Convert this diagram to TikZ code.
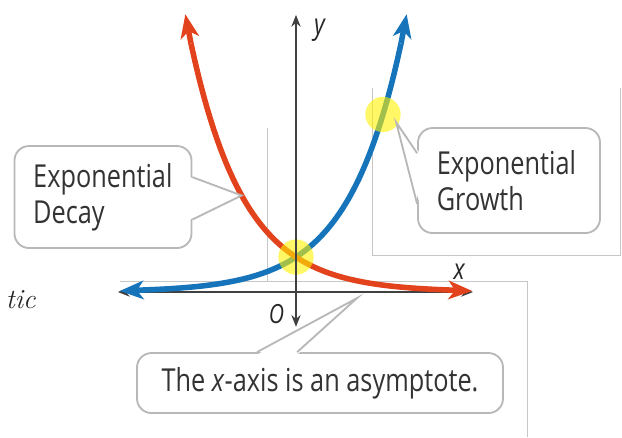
\documentclass[tikz,border=0pt]{standalone}
\usepackage{fontspec}
\usepackage{tikz}
\usetikzlibrary{arrows.meta}
\newfontfamily\callfont[FakeStretch=0.8]{Open Sans}
\definecolor{growthblue}{RGB}{22,116,186}
\definecolor{decayred}{RGB}{226,66,28}

\begin{document}
\begin{tikzpicture}[
        growth/.style={draw=growthblue, line width=4.2pt},
        decay/.style={draw=decayred, line width=4.2pt},
        bigtip/.style={-{Stealth[length=18pt, width=14pt, inset=5pt]}},
        axis/.style={draw=black!75, line width=1.4pt, {Stealth[length=9pt, width=7pt]}-{Stealth[length=9pt, width=7pt]}},
        frameline/.style={draw=black!22, line width=0.7pt},
        spot/.style={circle, fill=yellow, opacity=0.6, minimum size=0.94cm, inner sep=0pt},
        callbox/.style={draw=black!28, line width=1.4pt, fill=white, rounded corners=11pt, inner xsep=0.5cm, text=black!80, font=\callfont\fontsize{24}{27}\selectfont},
        pointer/.style={draw=black!28, line width=1.4pt},
        axislabel/.style={text=black!85, font=\callfont\itshape\fontsize{22}{24}\selectfont}
    ]
    \useasboundingbox (-7.893,-3.867) rectangle (8.693,7.787);

    % Frame lines behind the graph
    \draw[frameline] (2.027,5.44) -- (2.027,0.987) -- (8.64,0.987) -- (8.64,5.44);
    \draw[frameline] (-4.693,0.293) -- (6.16,0.293) -- (6.16,-3.867);
    \draw[frameline] (-0.773,4.373) -- (-0.773,0.293);

    % x-axis
    \coordinate (xl) at (-4.75,0);
    \coordinate (xr) at (4.72,0);
    \draw[axis] (xl) -- (xr);

    % Growth curve
    \draw[growth] plot[domain=-4:2.8, samples=80] (\x, {0.9333*exp(0.7*\x)});
    \coordinate (gend) at (2.8,6.626);
    \coordinate (gtop) at (2.95,7.408);
    \coordinate (gstart) at (-4,0.0568);
    \coordinate (gleft) at (-4.7,0.029);
    \draw[growth, bigtip] (gend) -- (gtop);
    \draw[growth, bigtip] (gstart) -- (gleft);

    % Decay curve
    \draw[decay] plot[domain=-2.8:4, samples=80] (\x, {0.9333*exp(-0.7*\x)});
    \coordinate (dend) at (-2.8,6.626);
    \coordinate (dtop) at (-2.95,7.408);
    \coordinate (dstart) at (4,0.0568);
    \coordinate (dright) at (4.7,0.029);
    \draw[decay, bigtip] (dend) -- (dtop);
    \draw[decay, bigtip] (dstart) -- (dright);

    % Highlights
    \node[spot] (cross) at (0,0.9333) {};
    \node[spot] (mark) at (2.32,4.735) {};

    % y-axis
    \coordinate (yb) at (0,-0.93);
    \coordinate (yt) at (0,7.39);
    \draw[axis] (yb) -- (yt);

    \node[axislabel] (ylab) at (0.627,6.99) {y};
    \node[axislabel] (xlab) at (4.35,0.53) {x};
    \node[axislabel, font=\callfont\itshape\fontsize{20}{24}\selectfont] (olab) at (-0.52,-0.59) {O};

    \node[anchor=base west, text=black!85, font=\itshape\fontsize{21}{25}\selectfont] (tic) at (-7.86,-0.43) {tic};

    % Callouts
    \node[callbox, minimum width=4.72cm, minimum height=2.72cm, text width=3.72cm, align=left] (decaynote) at (-5.147,2.533) {Exponential\\Decay};
    \node[callbox, minimum width=4.853cm, minimum height=2.8cm, text width=3.853cm, align=left] (growthnote) at (5.68,2.973) {Exponential\\Growth};
    \node[callbox, minimum width=9.76cm, minimum height=1.6cm, align=center] (asymnote) at (0.64,-2.427) {The \textit{x}-axis is an asymptote.};

    \coordinate (dtip) at (-1.45,2.574);
    \fill[white] ([xshift=-2pt, yshift=0.53cm]decaynote.east) -- (dtip) -- ([xshift=-2pt, yshift=-0.6cm]decaynote.east) -- cycle;
    \draw[pointer] ([yshift=0.53cm]decaynote.east) -- (dtip) -- ([yshift=-0.6cm]decaynote.east);

    \coordinate (gtip) at (2.67,4.53);
    \fill[white] ([xshift=2pt, yshift=0.73cm]growthnote.west) -- (gtip) -- ([xshift=2pt, yshift=-0.62cm]growthnote.west) -- cycle;
    \draw[pointer] ([yshift=0.73cm]growthnote.west) -- (gtip) -- ([yshift=-0.62cm]growthnote.west);

    \coordinate (atip) at (1.63,-0.16);
    \fill[white] ([xshift=-1.68cm, yshift=-2pt]asymnote.north) -- (atip) -- ([xshift=-0.61cm, yshift=-2pt]asymnote.north) -- cycle;
    \draw[pointer] ([xshift=-1.68cm]asymnote.north) -- (atip) -- ([xshift=-0.61cm]asymnote.north);
\end{tikzpicture}
\end{document}
